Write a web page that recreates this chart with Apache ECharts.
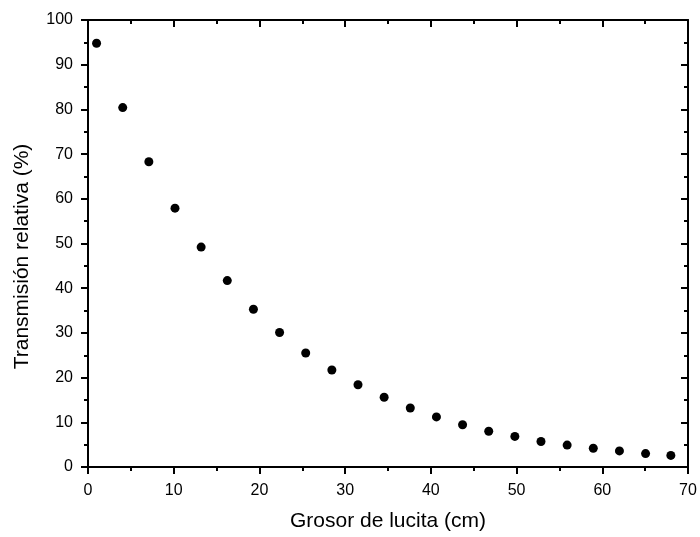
<!DOCTYPE html>
<html><head><meta charset="utf-8">
<script src="https://cdn.jsdelivr.net/npm/echarts@6/dist/echarts.min.js"></script>
<style>html,body{margin:0;padding:0;background:#fff}#c{width:700px;height:537px}</style>
</head><body><div id="c"></div>
<script>
const thickness = [1.0, 4.05, 7.1, 10.15, 13.2, 16.25, 19.3, 22.35, 25.4, 28.45, 31.5, 34.55, 37.6, 40.65, 43.7, 46.75, 49.8, 52.85, 55.9, 58.95, 62.0, 65.05, 68.0];
const transmission = [94.8, 80.4, 68.3, 57.9, 49.2, 41.7, 35.3, 30.1, 25.5, 21.7, 18.4, 15.6, 13.2, 11.2, 9.45, 8.0, 6.85, 5.7, 4.9, 4.2, 3.6, 3.0, 2.6];
const xTitle = 'Grosor de lucita (cm)';
const yTitle = 'Transmisión relativa (%)';

const font = 'Liberation Sans, Arial, sans-serif';
const line = {show: true, onZero: false, lineStyle: {color: '#000', width: 2}};
const tickOut = {show: true, inside: false, length: 7, lineStyle: {color: '#000', width: 2}};
const tickIn = {show: true, inside: true, length: 7, lineStyle: {color: '#000', width: 2}};
const minor = {show: true, splitNumber: 2, length: 4, lineStyle: {color: '#000', width: 2}};
const lbl = {color: '#000', fontSize: 16, fontFamily: font};

const chart = echarts.init(document.getElementById('c'), null, {renderer: 'canvas'});
chart.setOption({
  animation: false,
  grid: {left: 88, right: 12, top: 20, bottom: 69},
  xAxis: [
    {type: 'value', position: 'bottom', min: 0, max: 70, interval: 10,
     axisLine: line, axisTick: tickOut, minorTick: minor, splitLine: {show: false},
     axisLabel: Object.assign({margin: 16}, lbl),
     name: xTitle, nameLocation: 'middle', nameGap: 44,
     nameTextStyle: {color: '#000', fontSize: 21, fontFamily: font}},
    {type: 'value', position: 'top', min: 0, max: 70, interval: 10,
     axisLine: line, axisTick: tickIn, minorTick: minor, splitLine: {show: false},
     axisLabel: {show: false}}
  ],
  yAxis: [
    {type: 'value', position: 'left', min: 0, max: 100, interval: 10,
     axisLine: line, axisTick: tickOut, minorTick: minor, splitLine: {show: false},
     axisLabel: Object.assign({margin: 15}, lbl),
     name: yTitle, nameLocation: 'middle', nameGap: 55,
     nameTextStyle: {color: '#000', fontSize: 21, fontFamily: font, padding: [0, 26, 0, 0]}},
    {type: 'value', position: 'right', min: 0, max: 100, interval: 10,
     axisLine: line, axisTick: tickIn, minorTick: minor, splitLine: {show: false},
     axisLabel: {show: false}}
  ],
  series: [{
    type: 'scatter', xAxisIndex: 0, yAxisIndex: 0,
    symbol: 'circle', symbolSize: 9,
    itemStyle: {color: '#000', opacity: 1},
    data: thickness.map((x, i) => [x, transmission[i]])
  }]
});
</script></body></html>
